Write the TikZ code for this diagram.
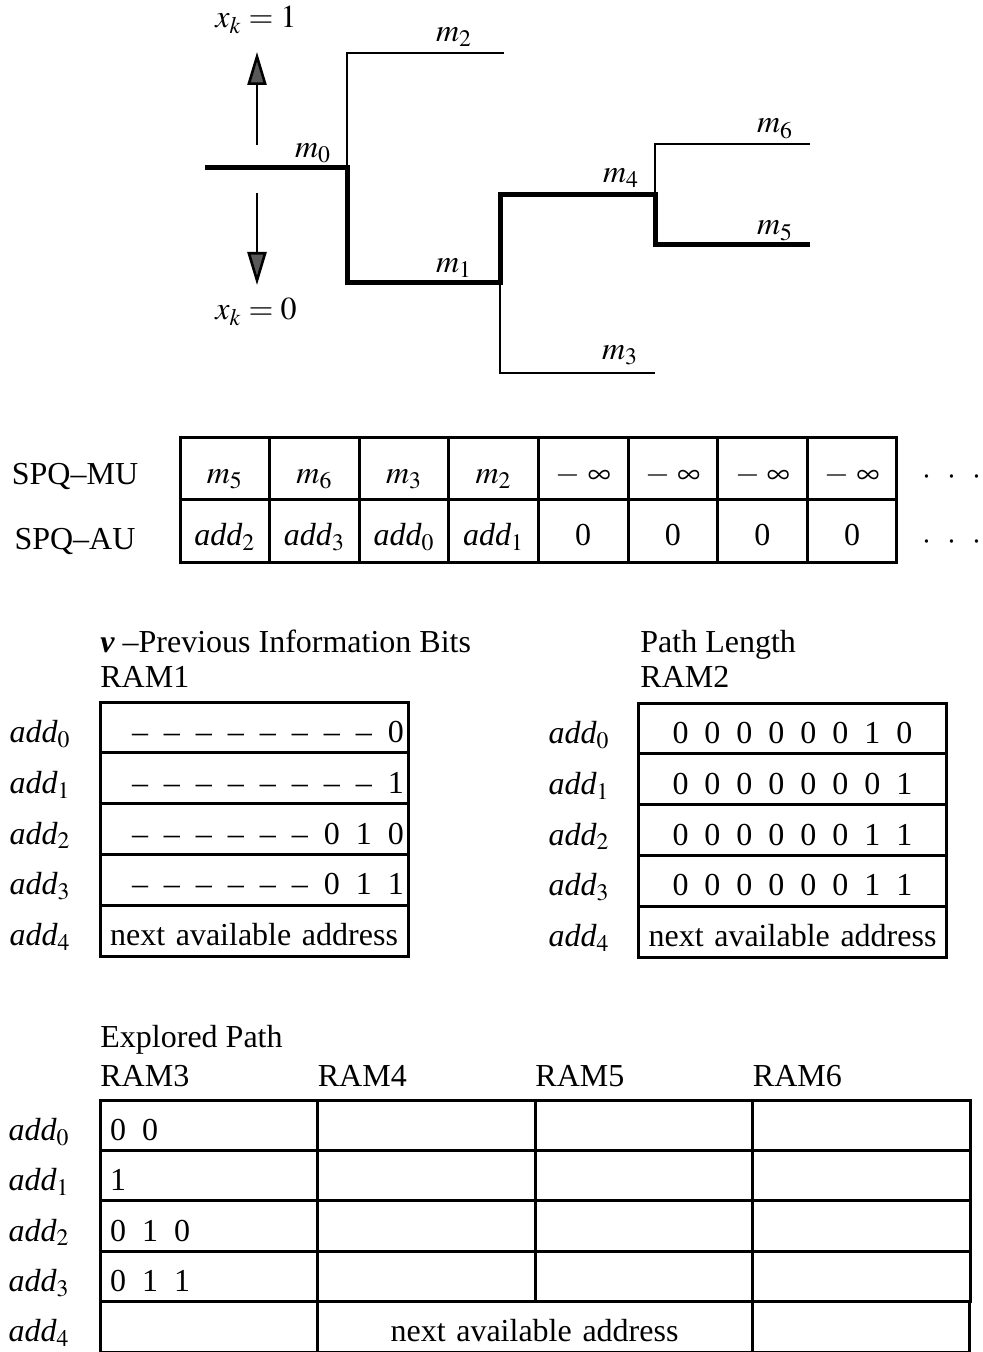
\documentclass[tikz,border=0pt]{standalone}
\usepackage{mathptmx}
\usepackage{fontspec}
\setmainfont{Liberation Serif}
\usetikzlibrary{arrows.meta}

\newcommand{\dashes}[1]{\foreach \k in {1,...,#1}{--\enskip}}
\newcommand{\bitstr}[1]{\foreach \b [count=\n] in {#1}{\ifnum\n>1\enskip\fi\b}}
\newcommand{\addr}[1]{\textit{add}$_{#1}$}
\newcommand{\moredots}{$\cdot$\hspace{8pt}$\cdot$\hspace{8pt}$\cdot$}
\newcommand{\neginf}{$-\;\infty$}

\begin{document}
\begin{tikzpicture}[x=0.5pt, y=-0.5pt,
    every node/.style={font=\fontsize{16}{19}\selectfont},
    title/.style={anchor=base west, inner sep=0pt},
    branch/.style={line width=1.3pt},
    chosen/.style={line width=2.5pt},
    dirarrow/.style={line width=1.3pt, -{Triangle[length=16.5pt, width=9.5pt, fill=black!65]}},
    spqcell/.style={draw, line width=1.5pt, minimum width=44.8pt, minimum height=31.25pt,
        inner sep=0pt, text height=15pt, text depth=0pt},
    ramrow/.style={draw, line width=1.5pt, minimum height=25.4pt, inner xsep=2pt, inner ysep=0pt,
        text width=150pt, text height=15pt, text depth=0pt},
    expcell/.style={draw, line width=1.5pt, minimum width=108.75pt, minimum height=25.2pt,
        inner xsep=5pt, inner ysep=0pt, text width=98.75pt, align=left,
        text height=15pt, text depth=0pt}
]
    \useasboundingbox (0,0) rectangle (982,1352);

    % Tree of explored paths
    \coordinate (root) at (205,168);
    \coordinate (b0) at (347,168);
    \coordinate (b1) at (500,283);
    \coordinate (b4) at (655,195);
    \coordinate (leaf2) at (504,53);
    \coordinate (leaf3) at (655,373);
    \coordinate (leaf6) at (810,144);
    \coordinate (leaf5) at (810,245);
    \draw[branch] (b0) |- (leaf2);
    \draw[branch] (b1) |- (leaf3);
    \draw[branch] (b4) |- (leaf6);
    \draw[chosen] (root) -- (b0) |- (b1) |- (b4) |- (leaf5);

    \node[anchor=base] (m0) at (313,158) {$m_0$};
    \node[anchor=base] (m1) at (454,273) {$m_1$};
    \node[anchor=base] (m2) at (454,42) {$m_2$};
    \node[anchor=base] (m3) at (620,360) {$m_3$};
    \node[anchor=base] (m4) at (621,183) {$m_4$};
    \node[anchor=base] (m5) at (775,235) {$m_5$};
    \node[anchor=base] (m6) at (775,133) {$m_6$};

    % Branch direction
    \node[anchor=base] (xkone) at (256,28) {$x_k = 1$};
    \node[anchor=base] (xkzero) at (256,320) {$x_k = 0$};
    \coordinate (upfoot) at (257,145);
    \coordinate (uptip) at (257,52);
    \coordinate (downfoot) at (257,193);
    \coordinate (downtip) at (257,285);
    \draw[dirarrow] (upfoot) -- (uptip);
    \draw[dirarrow] (downfoot) -- (downtip);

    % Sorted priority queue
    \node[anchor=base] (spqmu) at (75,484) {SPQ--MU};
    \node[anchor=base] (spqau) at (75,549) {SPQ--AU};
    \foreach \val [count=\i from 0] in {$m_5$,$m_6$,$m_3$,$m_2$,\neginf,\neginf,\neginf,\neginf}
        \node[spqcell] (mu\i) at ({224.8+89.6*\i},468.25) {\val};
    \foreach \val [count=\i from 0] in {\addr{2},\addr{3},\addr{0},\addr{1},0,0,0,0}
        \node[spqcell] (au\i) at ({224.8+89.6*\i},530.75) {\val};
    \node (mudots) at (952,478) {\moredots};
    \node (audots) at (952,543) {\moredots};

    % RAM1
    \node[title] (bitstitle) at (100,652) {{\bfseries\itshape ν} --Previous Information Bits};
    \node[title] (ramone) at (100,687) {RAM1};
    \node[ramrow, align=right] (ra0) at (254,727.5) {\dashes{8}0};
    \node[ramrow, align=right] (ra1) at (254,778.3) {\dashes{8}1};
    \node[ramrow, align=right] (ra2) at (254,829.1) {\dashes{6}\bitstr{0,1,0}};
    \node[ramrow, align=right] (ra3) at (254,879.9) {\dashes{6}\bitstr{0,1,1}};
    \node[ramrow, align=center] (ra4) at (254,930.7) {next available address};

    % RAM2
    \node[title] (lentitle) at (640,652) {Path Length};
    \node[title] (ramtwo) at (640,687) {RAM2};
    \node[ramrow, align=center] (rb0) at (792.5,728.5) {\bitstr{0,0,0,0,0,0,1,0}};
    \node[ramrow, align=center] (rb1) at (792.5,779.3) {\bitstr{0,0,0,0,0,0,0,1}};
    \node[ramrow, align=center] (rb2) at (792.5,830.1) {\bitstr{0,0,0,0,0,0,1,1}};
    \node[ramrow, align=center] (rb3) at (792.5,880.9) {\bitstr{0,0,0,0,0,0,1,1}};
    \node[ramrow, align=center] (rb4) at (792.5,931.7) {next available address};

    \foreach \i in {0,...,4} {
        \node[anchor=base] (la\i) at (40,{742.5+50.8*\i}) {\addr{\i}};
        \node[anchor=base] (lb\i) at (579,{743.5+50.8*\i}) {\addr{\i}};
    }

    % RAM3 -- RAM6
    \node[title] (pathtitle) at (100,1047) {Explored Path};
    \foreach \r [count=\j from 0] in {RAM3,RAM4,RAM5,RAM6}
        \node[title] (head\j) at ({100+217.5*\j},1086) {\r};
    \foreach \val [count=\i from 0] in {{\bitstr{0,0}},1,{\bitstr{0,1,0}},{\bitstr{0,1,1}}} {
        \node[expcell] (ex\i c0) at (208.75,{1125.2+50.4*\i}) {\val};
        \foreach \j in {1,2,3}
            \node[expcell] (ex\i c\j) at ({208.75+217.5*\j},{1125.2+50.4*\i}) {};
    }
    \node[expcell] (ex4c0) at (208.75,1326.8) {};
    \node[expcell, minimum width=217.5pt, text width=207.5pt, align=center] (ex4c12) at (534.5,1326.8) {next available address};
    \node[expcell] (ex4c3) at (860.75,1326.8) {};
    \foreach \i in {0,...,4}
        \node[anchor=base] (lc\i) at (39,{1140.2+50.4*\i}) {\addr{\i}};
\end{tikzpicture}
\end{document}
